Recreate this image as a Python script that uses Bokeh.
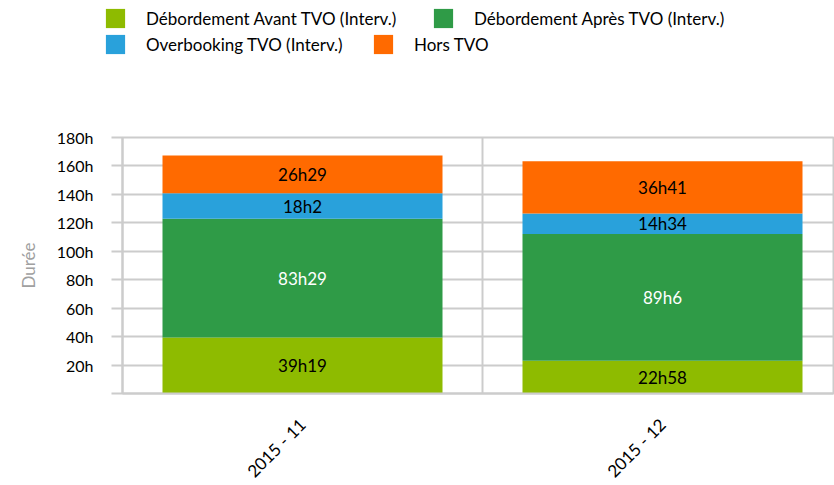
import math
import numpy as np
from bokeh.plotting import figure
from bokeh.layouts import column
from bokeh.models import Range1d, FixedTicker, Legend, LegendItem, ColumnDataSource
from bokeh.embed import file_html
from bokeh.resources import INLINE

# ---- data ----
categories = ["2015 - 11", "2015 - 12"]
series_names = ["Débordement Avant TVO (Interv.)", "Débordement Après TVO (Interv.)",
                "Overbooking TVO (Interv.)", "Hors TVO"]
avant = ["39h19", "22h58"]
apres = ["83h29", "89h6"]
overbooking = ["18h2", "14h34"]
hors = ["26h29", "36h41"]
y_ticks = [0, 20, 40, 60, 80, 100, 120, 140, 160, 180]
y_tick_labels = ["", "20h", "40h", "60h", "80h", "100h", "120h", "140h", "160h", "180h"]

series = [avant, apres, overbooking, hors]
colors = ["#8EBB00", "#2F9B47", "#29A1DB", "#FF6A00"]
label_colors = ["#000000", "#FFFFFF", "#000000", "#000000"]

FONT = "Lato"
GRID = "#CCCCCC"


def to_hours(s):
    h, m = s.split("h")
    return int(h) + int(m) / 60.0


W = 834
legend_h = 60
frame_w, frame_h = 711, 256
cat_px = 360
x_end = frame_w / cat_px

p = figure(frame_width=frame_w, frame_height=frame_h,
           min_border_left=122, min_border_right=1, min_border_top=77, min_border_bottom=92,
           x_range=Range1d(0, x_end), y_range=Range1d(0, 180),
           output_backend="svg", toolbar_location=None, tools="")
p.frame_align = False

xs = np.arange(len(categories)) + 0.5
bottom = np.zeros(len(categories))
for name, vals, col, lcol in zip(series_names, series, colors, label_colors):
    hrs = np.array([to_hours(v) for v in vals])
    top = bottom + hrs
    src = ColumnDataSource(dict(x=xs, bottom=bottom, top=top, mid=(bottom + top) / 2, lab=vals))
    p.vbar(x="x", bottom="bottom", top="top", width=280 / cat_px, source=src,
           fill_color=col, line_color=None)
    p.text(x="x", y="mid", text="lab", source=src, text_align="center", text_baseline="middle",
           text_color=lcol, text_font_size="17px", text_font={"value": FONT})
    bottom = top

# axes
p.yaxis.ticker = FixedTicker(ticks=y_ticks)
p.yaxis.major_label_overrides = {t: l for t, l in zip(y_ticks, y_tick_labels)}
p.yaxis.axis_line_color = GRID
p.yaxis.axis_line_width = 2
p.yaxis.major_tick_line_color = GRID
p.yaxis.major_tick_line_width = 2
p.yaxis.major_tick_out = 11
p.yaxis.major_tick_in = 0
p.yaxis.minor_tick_line_color = None
p.yaxis.major_label_standoff = 18
p.yaxis.major_label_text_font = FONT
p.yaxis.major_label_text_font_size = "16px"
p.yaxis.major_label_text_color = "#000000"
p.yaxis.axis_label = "Durée"
p.yaxis.axis_label_text_font = FONT
p.yaxis.axis_label_text_font_size = "17px"
p.yaxis.axis_label_text_font_style = "normal"
p.yaxis.axis_label_text_color = "#A0A0A0"
p.yaxis.axis_label_standoff = 15

p.xaxis.ticker = FixedTicker(ticks=list(xs))
p.xaxis.major_label_overrides = {float(x): c for x, c in zip(xs, categories)}
p.xaxis.axis_line_color = GRID
p.xaxis.axis_line_width = 2
p.xaxis.major_tick_line_color = None
p.xaxis.minor_tick_line_color = None
p.xaxis.major_label_orientation = math.pi / 4
p.xaxis.major_label_standoff = 22
p.xaxis.major_label_text_font = FONT
p.xaxis.major_label_text_font_size = "17px"
p.xaxis.major_label_text_color = "#000000"

p.ygrid.ticker = FixedTicker(ticks=y_ticks)
p.ygrid.grid_line_color = GRID
p.ygrid.grid_line_width = 2
p.xgrid.ticker = FixedTicker(ticks=list(np.arange(len(categories) + 1)))
p.xgrid.grid_line_color = GRID
p.xgrid.grid_line_width = 2
p.outline_line_color = GRID
p.outline_line_width = 2
p.background_fill_color = "white"
p.border_fill_color = "white"

# legend strip above the chart
lg = figure(width=W, height=legend_h, x_range=Range1d(0, W), y_range=Range1d(0, legend_h),
            min_border=0, x_axis_location=None, y_axis_location=None,
            output_backend="svg", toolbar_location=None, tools="")
lg.frame_align = False
lg.grid.visible = False
lg.outline_line_color = None
legend_pos = [(103, 30), (431, 30), (103, 4), (371, 4)]
for name, col, pos in zip(series_names, colors, legend_pos):
    # zero-size swatch carrier: only used to draw the legend glyph
    r = lg.vbar(x=[0], top=[0], width=0, fill_color=col, line_color=None)
    leg = Legend(items=[LegendItem(label=name, renderers=[r])], location=pos,
                 orientation="horizontal", glyph_width=24, glyph_height=24, label_height=24,
                 label_standoff=19, padding=0, margin=0, spacing=0,
                 border_line_color=None, background_fill_alpha=0,
                 label_text_font=FONT, label_text_font_size="17px", label_text_color="#000000")
    lg.add_layout(leg)

layout = column(lg, p, spacing=0)
open("out.html", "w").write(file_html(layout, INLINE))
